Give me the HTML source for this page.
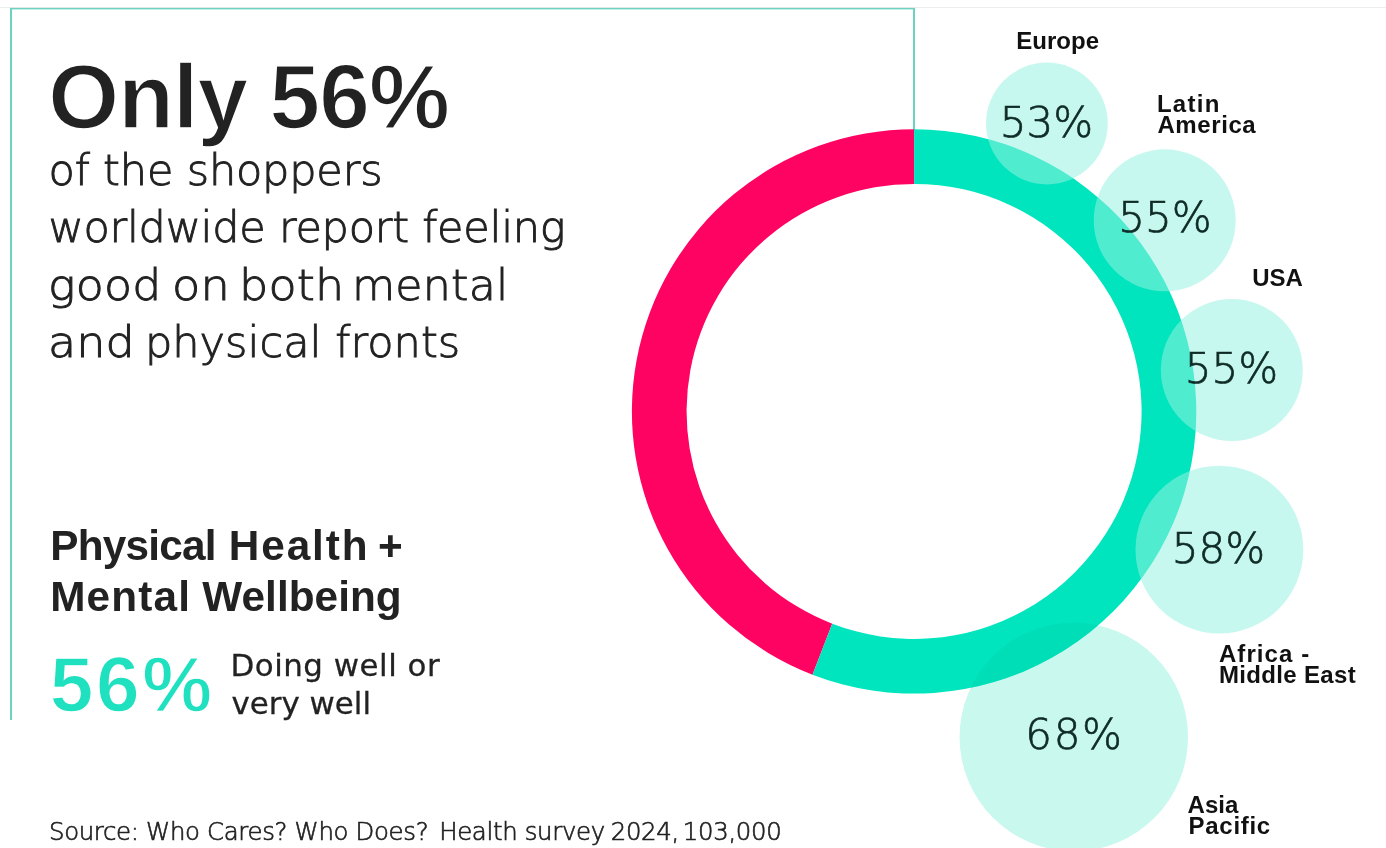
<!DOCTYPE html>
<html lang="en">
<head>
<meta charset="utf-8">
<title>Only 56% of the shoppers worldwide report feeling good</title>
<style>
  html, body { margin: 0; padding: 0; background: #ffffff; }
  body { width: 1386px; height: 848px; position: relative; overflow: hidden;
         font-family: "Liberation Sans", sans-serif; color: #222222; }
  .abs { position: absolute; white-space: nowrap; margin: 0; padding: 0; }
  .frame-left { left: 10px; top: 8px; width: 2px; height: 712px; background: #6dd3c0; }
  .frame-right { left: 913px; top: 8px; width: 2px; height: 123px; background: #6dd3c0; }
  .rule { left: 0; top: 7px; width: 1386px; height: 1px; background: #ededed; }
  h1 { font-weight: bold; font-size: 91px; line-height: 100px; left: 48.2px; top: 46.9px; color: #222; -webkit-text-stroke: 1.6px #fff; letter-spacing: -0.8px; word-spacing: -2.3px; }
  .light { font-family: "DejaVu Sans Light", "DejaVu Sans", "Liberation Sans", sans-serif; font-weight: 200; }
  .book { font-family: "DejaVu Sans", "Liberation Sans", sans-serif; font-weight: 400; }
  .lead { font-size: 43px; line-height: 57.5px; left: 48.5px; top: 141.6px; color: #222; -webkit-text-stroke: 0.9px #222; }
  .lead span { display: block; }
  .lead i { display: inline-block; font-style: normal; transform-origin: 0 50%; }
  h2 { font-weight: bold; font-size: 42.3px; line-height: 50.8px; left: 50.2px; top: 520.9px; color: #222; }
  h2 span { display: block; }
  h2 span b { font-weight: inherit; }
  .big { font-weight: bold; font-size: 78.5px; line-height: 80px; left: 49.8px; top: 644.3px; color: #1fe0bf; letter-spacing: 2.6px; -webkit-text-stroke: 1.4px #fff; }
  .note { font-size: 30.9px; line-height: 38.6px; left: 230.5px; top: 645.5px; color: #222; -webkit-text-stroke: 0.3px #222; }
  .note span { display: block; }
  .source { font-size: 24.4px; line-height: 30px; left: 49px; top: 817px; color: #222; -webkit-text-stroke: 0.65px #222; letter-spacing: -0.33px; }
  svg { position: absolute; left: 0; top: 0; }
  .pct { font-family: "DejaVu Sans Light", "DejaVu Sans", "Liberation Sans", sans-serif; font-weight: 200; font-size: 42px; fill: #0f2b26; stroke: #0f2b26; stroke-width: 0.7px; letter-spacing: 0px; }
  .lbl { font-family: "Liberation Sans", sans-serif; font-size: 24px; font-weight: bold; fill: #111; }
</style>
</head>
<body>
<div class="abs rule"></div>
<div class="abs frame-left"></div>
<div class="abs frame-right"></div>

<h1 class="abs">Only 56%</h1>
<p class="abs lead light"><span style="letter-spacing:-0.17px">of the shoppers</span><span style="letter-spacing:-0.25px">worldwide report feeling</span><span style="letter-spacing:0.2px"><i style="transform:scaleX(1.065);margin-right:3.9px;margin-left:-0.7px">good</i> <i style="transform:scaleX(1.075);margin-right:-0.8px">on</i> <i style="transform:scaleX(1.07);margin-right:0.6px">both</i> <i style="transform:scaleX(1.03);margin-right:4.3px">mental</i></span><span style="letter-spacing:0.05px"><i style="transform:scaleX(1.07);margin-right:2.3px;margin-left:-0.7px">and</i> physical fronts</span></p>

<h2 class="abs"><span><b style="letter-spacing:-0.77px">Physical</b> <b style="letter-spacing:1.88px;margin-left:1.4px">Health</b><b style="margin-left:-3.2px"> +</b></span><span><b style="letter-spacing:1.15px">Mental</b> <b style="letter-spacing:0.05px;margin-left:-0.5px">Wellbeing</b></span></h2>
<div class="abs big">56%</div>
<p class="abs note book"><span style="letter-spacing:0.5px">Doing well or</span><span style="letter-spacing:0px;margin-left:1px">very well</span></p>
<p class="abs source light">Source: Who Cares? Who Does? <span style="margin-left:3.5px">Health survey</span><span style="margin-left:-1.5px"> 2024,</span><span style="margin-left:-3.5px"> 103,000</span></p>

<svg width="1386" height="848" viewBox="0 0 1386 848">
  <defs>
    <clipPath id="tealclip"><path d="M914.10 129.20A282.2 282.2 0 1 1 812.51 674.68L832.20 623.65A227.5 227.5 0 1 0 914.10 183.90Z"/></clipPath>
  </defs>
  <rect x="10" y="7.9" width="905" height="1.5" fill="#6dd3c0"/>
  <!-- Asia Pacific bubble sits behind the ring -->
  <circle cx="1073.8" cy="737" r="114.25" fill="#c9f8ee"/>
  <!-- ring -->
  <path d="M812.51 674.68A282.2 282.2 0 0 1 914.10 129.20L914.10 183.90A227.5 227.5 0 0 0 832.20 623.65Z" fill="#fe0362"/>
  <path d="M914.10 129.20A282.2 282.2 0 1 1 812.51 674.68L832.20 623.65A227.5 227.5 0 1 0 914.10 183.90Z" fill="#00e5be"/>
  <circle cx="1073.8" cy="737" r="114.25" fill="#00d9b4" opacity="0.6" clip-path="url(#tealclip)"/>
  <!-- bubbles in front -->
  <g fill="#96f2e0" fill-opacity="0.53">
    <circle cx="1046.9" cy="123.5" r="60.9"/>
    <circle cx="1164.7" cy="220.3" r="71"/>
    <circle cx="1231.8" cy="370" r="71"/>
    <circle cx="1219.4" cy="549.6" r="83.9"/>
  </g>
  <g class="pct" text-anchor="middle">
    <text x="1046.4" y="136.5">53%</text>
    <text x="1165" y="232.3">55%</text>
    <text x="1231.4" y="383.4">55%</text>
    <text x="1218.5" y="562.8">58%</text>
    <text x="1074.4" y="748.9" style="letter-spacing:1.6px">68%</text>
  </g>
  <g class="lbl">
    <text x="1016.3" y="49.4">Europe</text>
    <text x="1156.9" y="111.8" style="letter-spacing:1.3px">Latin</text>
    <text x="1157.4" y="133.3" style="letter-spacing:0.6px">America</text>
    <text x="1252.2" y="285.7">USA</text>
    <text x="1218.9" y="661.6" style="letter-spacing:1.1px">Africa -</text>
    <text x="1218.9" y="682.6" style="letter-spacing:0.35px">Middle East</text>
    <text x="1187.6" y="812.5">Asia</text>
    <text x="1188.6" y="833.7" style="letter-spacing:0.7px">Pacific</text>
  </g>
</svg>
</body>
</html>
